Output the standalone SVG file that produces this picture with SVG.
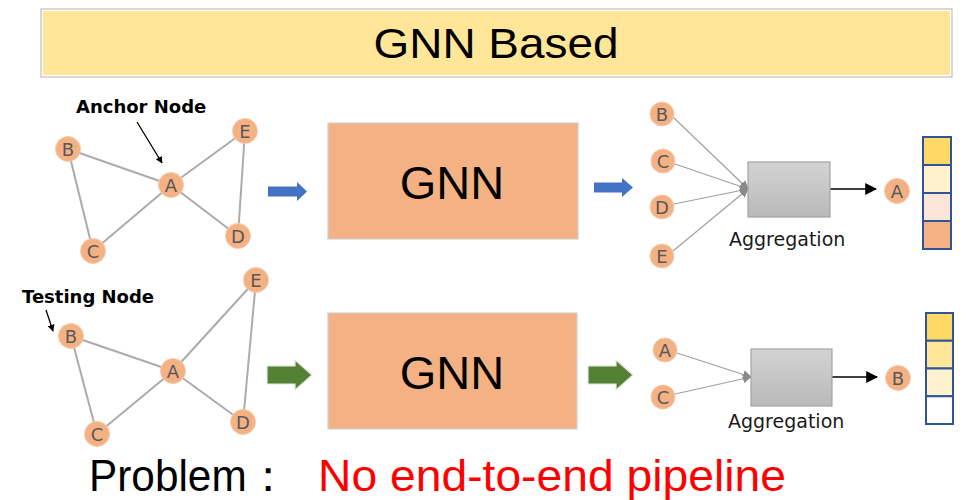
<svg xmlns="http://www.w3.org/2000/svg" width="974" height="500" viewBox="0 0 974 500">
  <style>
    .edge { stroke: #ABABAB; stroke-width: 2; fill: none; }
    .agg-in { stroke: #A0A0A0; stroke-width: 1.2; fill: none; }
    .node circle { fill: #F4B183; stroke: #F8CBAD; stroke-width: 1; }
    .node text { font-family: "DejaVu Sans", sans-serif; font-size: 18px; fill: #595959; text-anchor: middle; }
    .label { font-family: "DejaVu Sans", sans-serif; font-weight: bold; font-size: 18px; fill: #000; }
    .agg-label { font-family: "DejaVu Sans", sans-serif; font-size: 19px; fill: #1A1A1A; }
    .gnn rect { fill: #F4B183; stroke: #D0D0D0; stroke-width: 1.2; }
    .gnn text { font-family: "Liberation Sans", Arial, sans-serif; font-size: 47px; fill: #000; text-anchor: middle; }
    .agg rect { fill: url(#aggFill); stroke: #A3A3A3; stroke-width: 1.2; }
    .vec rect { stroke: #2F5597; stroke-width: 2; }
    .blue { fill: #4472C4; }
    .green { fill: #548235; stroke: #E6E6E6; stroke-width: 1.2; }
    .pointer { stroke: #000; stroke-width: 1.3; fill: none; }
    .out { stroke: #000; stroke-width: 1.3; fill: none; }
  </style>
  <defs>
    <linearGradient id="aggFill" x1="0" y1="0" x2="0" y2="1">
      <stop offset="0" stop-color="#D3D3D3"/>
      <stop offset="1" stop-color="#B9B9B9"/>
    </linearGradient>
    <marker id="headBlack" viewBox="0 0 10 10" refX="9" refY="5" markerWidth="7" markerHeight="7" markerUnits="userSpaceOnUse" orient="auto">
      <path d="M0,0 L10,5 L0,10 z" fill="#000"/>
    </marker>
    <marker id="headOut" viewBox="0 0 10 10" refX="9" refY="5" markerWidth="12" markerHeight="12" markerUnits="userSpaceOnUse" orient="auto">
      <path d="M0,0 L10,5 L0,10 z" fill="#000"/>
    </marker>
    <marker id="headGray" viewBox="0 0 10 10" refX="9" refY="5" markerWidth="9" markerHeight="9" markerUnits="userSpaceOnUse" orient="auto">
      <path d="M0,0 L10,5 L0,10 z" fill="#8A8A8A"/>
    </marker>
  </defs>

  <!-- title banner -->
  <g id="title">
    <rect x="41" y="9" width="911" height="68" fill="#FFFFFF" stroke="#BFBFBF" stroke-width="1.2"/>
    <rect x="43" y="11" width="907" height="64" fill="#FFE699"/>
    <text x="496" y="58" font-family="'Liberation Sans', Arial, sans-serif" font-size="42" text-anchor="middle" textLength="245" lengthAdjust="spacingAndGlyphs">GNN Based</text>
  </g>

  <!-- connectors -->
  <g id="connectors">
    <!-- upper graph edges -->
    <line class="edge" x1="68" y1="149" x2="171" y2="185"/>
    <line class="edge" x1="68" y1="149" x2="93" y2="251"/>
    <line class="edge" x1="93" y1="251" x2="171" y2="185"/>
    <line class="edge" x1="171" y1="185" x2="245" y2="131"/>
    <line class="edge" x1="171" y1="185" x2="238" y2="236"/>
    <line class="edge" x1="245" y1="131" x2="238" y2="236"/>
    <!-- lower graph edges -->
    <line class="edge" x1="71" y1="336" x2="173" y2="371"/>
    <line class="edge" x1="71" y1="336" x2="97" y2="434"/>
    <line class="edge" x1="97" y1="434" x2="173" y2="371"/>
    <line class="edge" x1="173" y1="371" x2="256" y2="280"/>
    <line class="edge" x1="173" y1="371" x2="243" y2="422"/>
    <line class="edge" x1="256" y1="280" x2="243" y2="422"/>
    <!-- label pointers -->
    <line class="pointer" x1="137" y1="122" x2="162" y2="163" marker-end="url(#headBlack)"/>
    <line class="pointer" x1="46" y1="310" x2="53" y2="331" marker-end="url(#headBlack)"/>
    <!-- upper aggregation inputs -->
    <line class="agg-in" x1="674" y1="118" x2="748" y2="189" marker-end="url(#headGray)"/>
    <line class="agg-in" x1="675" y1="164" x2="748" y2="189" marker-end="url(#headGray)"/>
    <line class="agg-in" x1="674" y1="204" x2="748" y2="189" marker-end="url(#headGray)"/>
    <line class="agg-in" x1="673" y1="251" x2="748" y2="189" marker-end="url(#headGray)"/>
    <line class="out" x1="830" y1="189" x2="876" y2="189" marker-end="url(#headOut)"/>
    <!-- lower aggregation inputs -->
    <line class="agg-in" x1="677" y1="353" x2="751" y2="377" marker-end="url(#headGray)"/>
    <line class="agg-in" x1="675" y1="394" x2="751" y2="377" marker-end="url(#headGray)"/>
    <line class="out" x1="832" y1="377" x2="877" y2="377" marker-end="url(#headOut)"/>
    <!-- block arrows -->
    <polygon class="blue" points="268,186.5 297,186.5 297,182 307,191.5 297,201 297,196.5 268,196.5"/>
    <polygon class="blue" points="594,182.5 622,182.5 622,178 633,187.5 622,197 622,192.5 594,192.5"/>
    <polygon class="green" points="267,366 295,366 295,360 312,375 295,390 295,384 267,384"/>
    <polygon class="green" points="588,366 616,366 616,360 633,375 616,390 616,384 588,384"/>
  </g>

  <!-- labels -->
  <text class="label" x="76" y="113">Anchor Node</text>
  <text class="label" x="22" y="303">Testing Node</text>

  <!-- upper input graph -->
  <g id="g1-B" class="node"><circle cx="68" cy="149" r="12.5"/><text x="68" y="155.5">B</text></g>
  <g id="g1-A" class="node"><circle cx="171" cy="185" r="12.5"/><text x="171" y="191.5">A</text></g>
  <g id="g1-E" class="node"><circle cx="245" cy="131" r="12.5"/><text x="245" y="137.5">E</text></g>
  <g id="g1-C" class="node"><circle cx="93" cy="251" r="12.5"/><text x="93" y="257.5">C</text></g>
  <g id="g1-D" class="node"><circle cx="238" cy="236" r="12.5"/><text x="238" y="242.5">D</text></g>

  <!-- lower input graph -->
  <g id="g2-B" class="node"><circle cx="71" cy="336" r="12.5"/><text x="71" y="342.5">B</text></g>
  <g id="g2-A" class="node"><circle cx="173" cy="371" r="12.5"/><text x="173" y="377.5">A</text></g>
  <g id="g2-E" class="node"><circle cx="256" cy="280" r="12.5"/><text x="256" y="286.5">E</text></g>
  <g id="g2-C" class="node"><circle cx="97" cy="434" r="12.5"/><text x="97" y="440.5">C</text></g>
  <g id="g2-D" class="node"><circle cx="243" cy="422" r="12.5"/><text x="243" y="428.5">D</text></g>

  <!-- GNN blocks -->
  <g id="gnn1" class="gnn"><rect x="328" y="123" width="250" height="116"/><text x="452" y="199">GNN</text></g>
  <g id="gnn2" class="gnn"><rect x="328" y="313" width="249" height="116"/><text x="452" y="389">GNN</text></g>

  <!-- upper aggregation -->
  <g id="a1-B" class="node"><circle cx="662" cy="114" r="12"/><text x="662" y="120.5">B</text></g>
  <g id="a1-C" class="node"><circle cx="663" cy="161" r="12"/><text x="663" y="167.5">C</text></g>
  <g id="a1-D" class="node"><circle cx="662" cy="207" r="12"/><text x="662" y="213.5">D</text></g>
  <g id="a1-E" class="node"><circle cx="662" cy="256" r="12"/><text x="662" y="262.5">E</text></g>
  <g id="agg1" class="agg"><rect x="748" y="162" width="82" height="55"/></g>
  <text class="agg-label" x="729" y="246">Aggregation</text>
  <g id="a1-out" class="node"><circle cx="897" cy="191" r="12.5"/><text x="897" y="197.5">A</text></g>
  <g id="vec1" class="vec">
    <rect x="923" y="137" width="28" height="28" fill="#FFD966"/>
    <rect x="923" y="165" width="28" height="28" fill="#FFF2CC"/>
    <rect x="923" y="193" width="28" height="28" fill="#FBE5D6"/>
    <rect x="923" y="221" width="28" height="28" fill="#F4B183"/>
  </g>

  <!-- lower aggregation -->
  <g id="a2-A" class="node"><circle cx="665" cy="350" r="12"/><text x="665" y="356.5">A</text></g>
  <g id="a2-C" class="node"><circle cx="663" cy="397" r="12"/><text x="663" y="403.5">C</text></g>
  <g id="agg2" class="agg"><rect x="751" y="349" width="81" height="57"/></g>
  <text class="agg-label" x="728" y="428">Aggregation</text>
  <g id="a2-out" class="node"><circle cx="898" cy="378" r="12.5"/><text x="898" y="384.5">B</text></g>
  <g id="vec2" class="vec">
    <rect x="926" y="313" width="27" height="27.75" fill="#FFD966"/>
    <rect x="926" y="340.75" width="27" height="27.75" fill="#FFE699"/>
    <rect x="926" y="368.5" width="27" height="27.75" fill="#FFF2CC"/>
    <rect x="926" y="396.25" width="27" height="27.75" fill="#FFFFFF"/>
  </g>

  <!-- problem statement -->
  <text x="89" y="491" font-family="'Liberation Sans', Arial, sans-serif" font-size="45" fill="#000" textLength="200" lengthAdjust="spacingAndGlyphs">Problem：</text>
  <text x="318" y="491" font-family="'Liberation Sans', Arial, sans-serif" font-size="45" fill="#FF0000" textLength="468" lengthAdjust="spacingAndGlyphs">No end-to-end pipeline</text>
</svg>
